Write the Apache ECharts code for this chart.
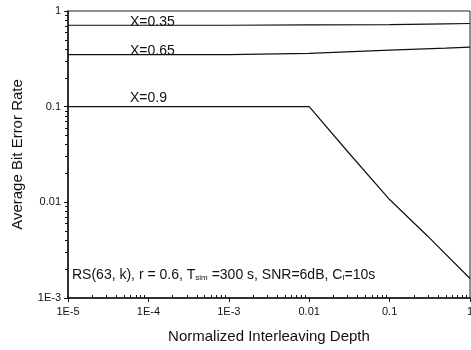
<!DOCTYPE html>
<html><head><meta charset="utf-8">
<script src="https://cdn.jsdelivr.net/npm/echarts@6/dist/echarts.min.js"></script>
<style>html,body{margin:0;padding:0;background:#fff}#c{width:471px;height:350px}</style>
</head><body><div id="c"></div>
<script>
// Data
const xTickValues = [1e-5, 1e-4, 1e-3, 0.01, 0.1, 1];
const xTickLabels = ['1E-5', '1E-4', '1E-3', '0.01', '0.1', '1'];
const yTickValues = [1e-3, 0.01, 0.1, 1];
const yTickLabels = ['1E-3', '0.01', '0.1', '1'];
const minorMultipliers = [2, 3, 4, 5, 6, 7, 8, 9];

const depthX035 = [1e-5, 1e-4, 1e-3, 0.01, 0.1, 0.5, 1];
const berX035   = [0.71, 0.71, 0.71, 0.715, 0.72, 0.735, 0.74];
const depthX065 = [1e-5, 1e-4, 1e-3, 0.01, 0.1, 0.5, 1];
const berX065   = [0.35, 0.35, 0.35, 0.36, 0.39, 0.41, 0.42];
const depthX09  = [1e-5, 1e-4, 1e-3, 0.01, 0.03, 0.1, 0.3, 1];
const berX09    = [0.1, 0.1, 0.1, 0.1, 0.034, 0.0107, 0.0044, 0.0016];

const seriesNames = ['X=0.35', 'X=0.65', 'X=0.9'];
const labelAnchorX = 5.9e-5;
const labelY = [0.77, 0.38, 0.123];

function fmt(v, vals, labs){
  for (let i=0;i<vals.length;i++){ if (Math.abs(Math.log10(v)-Math.log10(vals[i]))<1e-6) return labs[i]; }
  return '';
}
function pairs(xs, ys){ return xs.map((x,i)=>[x, ys[i]]); }
// minor tick positions expressed in log10 space for an overlay value axis
function minorTicksLog(decades){
  const out = [];
  decades.slice(0, -1).forEach(d => minorMultipliers.forEach(m => out.push(Math.log10(d*m))));
  return out;
}
const lg = v => Math.round(Math.log10(v));

const font = '"Liberation Sans", Arial, sans-serif';
const chart = echarts.init(document.getElementById('c'), null, {renderer:'canvas'});
const allX = [depthX035, depthX065, depthX09];
const allY = [berX035, berX065, berX09];
const rect = {left:68, right:1, top:11, bottom:52, containLabel:false, outerBoundsMode:'none'};

chart.setOption({
  animation:false,
  backgroundColor:'#fff',
  grid:[Object.assign({show:true, borderColor:'#222', borderWidth:1, backgroundColor:'transparent'}, rect),
        Object.assign({show:false}, rect)],
  xAxis:[{
    gridIndex:0, type:'log', logBase:10, min:xTickValues[0], max:xTickValues[xTickValues.length-1],
    name:'Normalized Interleaving Depth', nameLocation:'middle', nameGap:31,
    nameTextStyle:{fontFamily:font, fontSize:15, color:'#111'},
    axisLine:{onZero:false, lineStyle:{color:'#111', width:1.5}},
    axisTick:{show:true, inside:false, length:4, lineStyle:{color:'#111'}},
    axisLabel:{fontFamily:font, fontSize:11, color:'#111', margin:8, formatter:v=>fmt(v,xTickValues,xTickLabels)},
    splitLine:{show:false}
  }, {
    gridIndex:1, type:'value', position:'bottom',
    min:lg(xTickValues[0]), max:lg(xTickValues[xTickValues.length-1]),
    axisLine:{show:false, onZero:false},
    axisTick:{show:true, inside:true, length:3, customValues:minorTicksLog(xTickValues), lineStyle:{color:'#111'}},
    axisLabel:{show:false}, splitLine:{show:false}
  }],
  yAxis:[{
    gridIndex:0, type:'log', logBase:10, min:yTickValues[0], max:yTickValues[yTickValues.length-1],
    name:'Average Bit Error Rate', nameLocation:'middle', nameGap:43, nameRotate:90,
    nameTextStyle:{fontFamily:font, fontSize:15, color:'#111'},
    axisLine:{onZero:false, lineStyle:{color:'#111', width:1.5}},
    axisTick:{show:true, inside:false, length:4, lineStyle:{color:'#111'}},
    axisLabel:{fontFamily:font, fontSize:11, color:'#111', margin:7, formatter:v=>fmt(v,yTickValues,yTickLabels)},
    splitLine:{show:false}
  }, {
    gridIndex:1, type:'value', position:'left',
    min:lg(yTickValues[0]), max:lg(yTickValues[yTickValues.length-1]),
    axisLine:{show:false, onZero:false},
    axisTick:{show:true, inside:false, length:3, customValues:minorTicksLog(yTickValues), lineStyle:{color:'#111'}},
    axisLabel:{show:false}, splitLine:{show:false}
  }],
  series: seriesNames.map((n,i)=>({
    name:n, type:'line', showSymbol:false, symbol:'none',
    xAxisIndex:0, yAxisIndex:0,
    data:pairs(allX[i], allY[i]),
    lineStyle:{color:'#111', width:1.2},
    markPoint:{
      symbol:'circle', symbolSize:0,
      data:[{coord:[labelAnchorX, labelY[i]], value:n}],
      label:{show:true, formatter:n, position:'right', distance:0, fontFamily:font, fontSize:14, color:'#111'}
    }
  })),
  graphic:[{
    type:'text', left:72, top:268,
    style:{
      text:'{a|RS(63, k), r = 0.6, T}{s|sim}{a| =300 s, SNR=6dB, C}{s|I}{a|=10s}',
      rich:{
        a:{fontFamily:font, fontSize:14, fill:'#111', verticalAlign:'bottom'},
        s:{fontFamily:font, fontSize:8, fill:'#111', padding:[7,0,0,0], verticalAlign:'bottom'}
      }
    }
  }]
});
</script></body></html>
